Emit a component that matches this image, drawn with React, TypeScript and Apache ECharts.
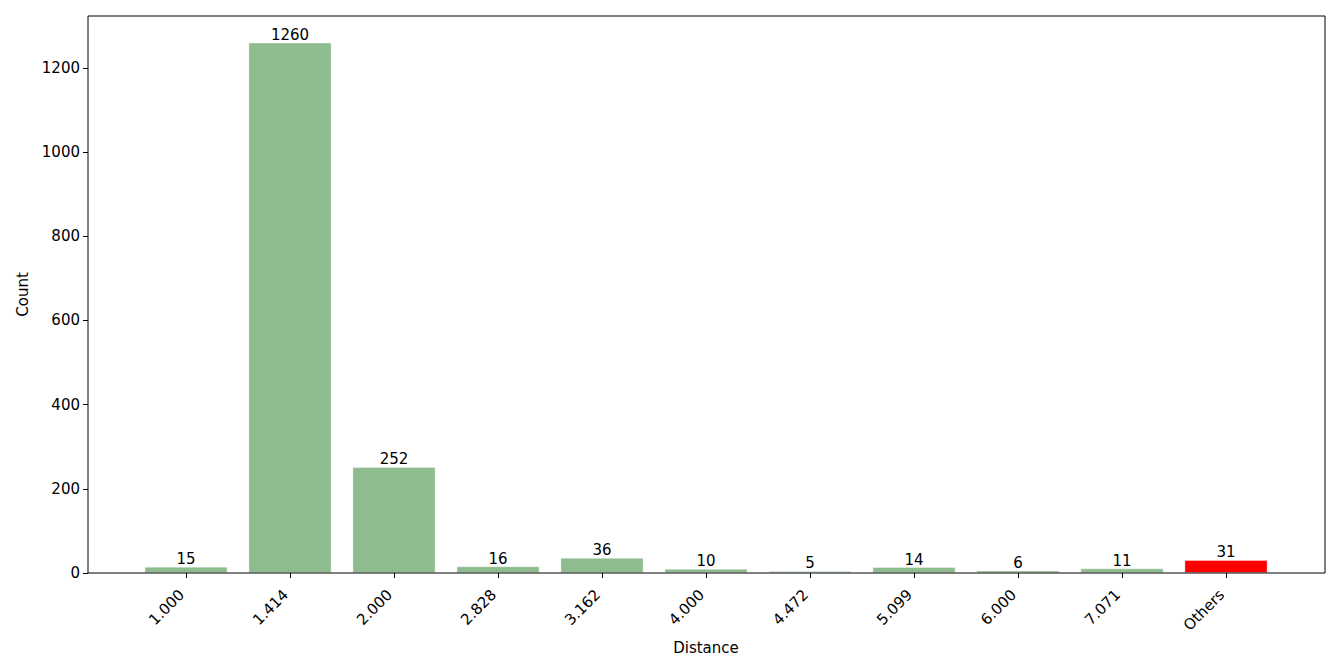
import React, { useEffect, useRef } from "react";
import * as echarts from "echarts";

const categories = ["1.000", "1.414", "2.000", "2.828", "3.162", "4.000", "4.472", "5.099", "6.000", "7.071", "Others"];
const counts = [15, 1260, 252, 16, 36, 10, 5, 14, 6, 11, 31];
const barColors = ["#8fbc8f", "#8fbc8f", "#8fbc8f", "#8fbc8f", "#8fbc8f", "#8fbc8f", "#8fbc8f", "#8fbc8f", "#8fbc8f", "#8fbc8f", "#ff0000"];
const yTicks = [0, 200, 400, 600, 800, 1000, 1200];

const FONT = "DejaVu Sans";
const FS = 15;

export default function App() {
  const ref = useRef<HTMLDivElement>(null);
  useEffect(() => {
    if (!ref.current) return;
    const chart = echarts.init(ref.current, null, { renderer: "svg" });
    chart.setOption({
      animation: false,
      backgroundColor: "#ffffff",
      textStyle: { fontFamily: FONT },
      grid: { left: 134, right: 63, top: 16, bottom: 98, containLabel: false },
      xAxis: {
        type: "category",
        data: categories,
        boundaryGap: true,
        name: "Distance",
        nameLocation: "middle",
        nameGap: 63,
        nameTextStyle: { color: "#000", fontSize: FS, fontFamily: FONT },
        axisLine: { show: false },
        axisTick: { show: true, alignWithLabel: true, length: 5, lineStyle: { color: "#000", width: 1 } },
        axisLabel: {
          rotate: 45,
          color: "#000",
          fontSize: FS,
          fontFamily: FONT,
          margin: 15,
          padding: [0, 6, 0, 0],
          interval: 0,
        },
        splitLine: { show: false },
      },
      yAxis: {
        type: "value",
        min: 0,
        max: 1323,
        interval: 200,
        offset: 46,
        name: "Count",
        nameLocation: "middle",
        nameGap: 55,
        nameRotate: 90,
        nameTextStyle: { color: "#000", fontSize: FS, fontFamily: FONT },
        axisLine: { show: false },
        axisTick: { show: true, length: 5, lineStyle: { color: "#000", width: 1 } },
        axisLabel: {
          color: "#000",
          fontSize: FS,
          fontFamily: FONT,
          margin: 8,
          showMaxLabel: false,
          formatter: (v: number) => (yTicks.includes(v) ? String(v) : ""),
        },
        splitLine: { show: false },
      },
      series: [
        {
          type: "bar",
          data: counts.map((v, i) => ({ value: v, itemStyle: { color: barColors[i] } })),
          barWidth: "80%",
          itemStyle: { borderColor: "rgba(255,255,255,0.35)", borderWidth: 1 },
          label: {
            show: true,
            position: "top",
            distance: 0,
            color: "#000",
            fontSize: FS,
            fontFamily: FONT,
          },
        },
      ],
      graphic: [
        {
          type: "rect",
          shape: { x: 88, y: 16, width: 1237, height: 557 },
          style: { fill: "none", stroke: "#000", lineWidth: 1 },
          z: 100,
          silent: true,
        },
      ],
    });
    return () => chart.dispose();
  }, []);
  return (
    <div
      ref={ref}
      style={{ position: "absolute", left: 0, top: 0, width: 1341, height: 671 }}
    />
  );
}
